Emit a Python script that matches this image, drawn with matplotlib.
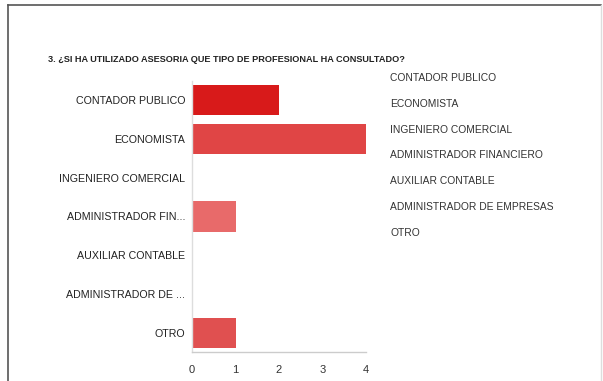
import matplotlib
matplotlib.use("Agg")
import matplotlib.pyplot as plt
from matplotlib.lines import Line2D

categories = [
    "CONTADOR PUBLICO",
    "ECONOMISTA",
    "INGENIERO COMERCIAL",
    "ADMINISTRADOR FINANCIERO",
    "AUXILIAR CONTABLE",
    "ADMINISTRADOR DE EMPRESAS",
    "OTRO",
]
tick_labels = [
    "CONTADOR PUBLICO",
    "ECONOMISTA",
    "INGENIERO COMERCIAL",
    "ADMINISTRADOR FIN...",
    "AUXILIAR CONTABLE",
    "ADMINISTRADOR DE ...",
    "OTRO",
]
counts = [2, 4, 0, 1, 0, 0, 1]
colors = ["#d81a1a", "#e04545", "#e25555", "#e86a6a", "#e55e5e", "#e35a5a", "#e05050"]
title = "3. ¿SI HA UTILIZADO ASESORIA QUE TIPO DE PROFESIONAL HA CONSULTADO?"

plt.rcParams["font.family"] = ["Liberation Sans", "DejaVu Sans"]

W, H = 603, 381
fig = plt.figure(figsize=(W / 100, H / 100), dpi=100)
fig.patch.set_facecolor("white")

ax = fig.add_axes([192 / W, 1 - 352.4 / H, 174 / W, (352.4 - 80.6) / H])
y = list(range(len(categories)))
ax.barh(y, counts, height=0.78, color=colors, edgecolor="none")
ax.set_ylim(len(categories) - 0.5, -0.5)
ax.set_xlim(0, 4)
ax.set_xticks([0, 1, 2, 3, 4])
ax.set_yticks(y)
ax.set_yticklabels(tick_labels, fontsize=7.7, color="#222222")
ax.tick_params(axis="x", labelsize=8, colors="#333333", length=0, pad=9)
ax.tick_params(axis="y", length=0, pad=5)
for side in ["top", "right"]:
    ax.spines[side].set_visible(False)
ax.spines["left"].set_color("#dddddd")
ax.spines["bottom"].set_color("#cccccc")
ax.spines["left"].set_linewidth(1)
ax.spines["bottom"].set_linewidth(1)

fig.text(48 / W, 1 - 60 / H, title, fontsize=6.6, fontweight="bold",
         color="#222222", va="center", ha="left")

# legend entries listed as plain text on the right
for i, name in enumerate(categories):
    fig.text(390 / W, 1 - (78 + i * 25.8) / H, name, fontsize=7.4,
             color="#333333", va="center", ha="left")

# outer frame
frame = dict(color="#555555", linewidth=1.2, transform=fig.transFigure)
fig.lines.append(Line2D([8 / W, 601 / W], [1 - 5 / H, 1 - 5 / H], **frame))
fig.lines.append(Line2D([8 / W, 8 / W], [0, 1 - 5 / H], **frame))
fig.lines.append(Line2D([601 / W, 601 / W], [0, 1 - 5 / H], color="#dddddd",
                        linewidth=1, transform=fig.transFigure))

fig.savefig("out.png", dpi=100)
